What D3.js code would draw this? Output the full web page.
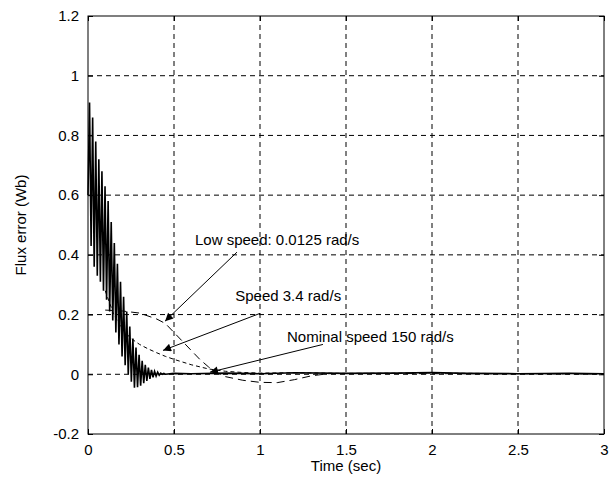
<!DOCTYPE html>
<html>
<head>
<meta charset="utf-8">
<script src="https://cdn.jsdelivr.net/npm/d3@7"></script>
<style>
  body { margin: 0; background: #fff; }
  text { font-family: "Liberation Sans", Arial, sans-serif; }
</style>
</head>
<body>
<div id="chart"></div>
<script>
// x / y tick values
const xTicks = [0, 0.5, 1, 1.5, 2, 2.5, 3];
const yTicks = [-0.2, 0, 0.2, 0.4, 0.6, 0.8, 1, 1.2];

// Nominal speed 150 rad/s : fast oscillating start (peaks / troughs)
const nominalT = [0, 0.009, 0.018, 0.027, 0.036, 0.045, 0.054, 0.063, 0.072, 0.081,
  0.09, 0.099, 0.108, 0.117, 0.126, 0.135, 0.144, 0.153, 0.162, 0.171,
  0.18, 0.189, 0.198, 0.207, 0.216, 0.225, 0.234, 0.243, 0.252, 0.261,
  0.27, 0.279, 0.288, 0.297, 0.306, 0.315, 0.324, 0.333, 0.342, 0.351,
  0.36, 0.369, 0.378, 0.387, 0.396, 0.405, 0.414, 0.423, 0.432, 0.441,
  0.45, 0.5, 0.6, 0.8, 1.0, 1.2, 1.5, 1.8, 2.0, 2.2, 2.5, 2.8, 3.0];
const nominalV = [0.6, 0.91, 0.43, 0.86, 0.36, 0.78, 0.33, 0.72, 0.31, 0.68,
  0.28, 0.63, 0.25, 0.58, 0.21, 0.51, 0.18, 0.44, 0.14, 0.37,
  0.10, 0.31, 0.06, 0.26, 0.03, 0.21, 0.0, 0.16, -0.025, 0.12,
  -0.045, 0.09, -0.043, 0.065, -0.038, 0.045, -0.03, 0.032, -0.022, 0.022,
  -0.015, 0.015, -0.01, 0.01, -0.006, 0.007, -0.003, 0.004, 0, 0.003,
  0, 0.003, 0.002, 0.004, 0.002, 0.005, 0.003, 0.004, 0.006, 0.003, 0.002, 0.003, 0.002];

// Speed 3.4 rad/s (dashed)
const midT = [0.1, 0.15, 0.2, 0.25, 0.3, 0.35, 0.4, 0.45, 0.5, 0.6, 0.7, 0.8, 0.9, 1.0, 1.2, 1.5, 2.0, 2.5, 3.0];
const midV = [0.28, 0.2, 0.15, 0.12, 0.1, 0.085, 0.072, 0.06, 0.05, 0.032, 0.018, 0.01, 0.006, 0.004, 0.005, 0.003, 0.004, 0.002, 0.002];

// Low speed 0.0125 rad/s (long dashes)
const lowT = [0.1, 0.2, 0.3, 0.4, 0.45, 0.5, 0.55, 0.6, 0.65, 0.7, 0.75, 0.8, 0.9, 1.0, 1.1, 1.2, 1.3, 1.4, 1.6, 2.0, 2.5, 3.0];
const lowV = [0.215, 0.212, 0.205, 0.185, 0.17, 0.14, 0.11, 0.08, 0.05, 0.025, 0.005, -0.008, -0.02, -0.027, -0.028, -0.018, -0.005, 0.002, 0.003, 0.002, 0.002, 0.001];

// annotations: label, text position, arrow start, arrow tip (data units)
const notes = [
  { label: "Low speed: 0.0125 rad/s", tx: 0.622, ty: 0.433, x1: 0.866, y1: 0.409, x2: 0.448, y2: 0.178 },
  { label: "Speed 3.4 rad/s", tx: 0.856, ty: 0.246, x1: 1.0, y1: 0.204, x2: 0.436, y2: 0.08 },
  { label: "Nominal speed 150 rad/s", tx: 1.157, ty: 0.107, x1: 1.366, y1: 0.1, x2: 0.709, y2: 0.007 }
];

const W = 615, H = 484;
const margin = { top: 16, right: 11, bottom: 50, left: 88 };
const width = W - margin.left - margin.right;
const height = H - margin.top - margin.bottom;

const svg = d3.select("#chart").append("svg")
  .attr("width", W).attr("height", H);

svg.append("defs").append("marker")
  .attr("id", "arr")
  .attr("viewBox", "0 0 10 10")
  .attr("refX", 10).attr("refY", 5)
  .attr("markerWidth", 10).attr("markerHeight", 8)
  .attr("markerUnits", "userSpaceOnUse")
  .attr("orient", "auto")
  .append("path").attr("d", "M0,0 L10,5 L0,10 Z").attr("fill", "#000");

const g = svg.append("g").attr("transform", `translate(${margin.left},${margin.top})`);

const x = d3.scaleLinear().domain([0, 3]).range([0, width]);
const y = d3.scaleLinear().domain([-0.2, 1.2]).range([height, 0]);

// grid
g.append("g").selectAll("line").data(xTicks.slice(1, -1)).enter().append("line")
  .attr("x1", d => x(d)).attr("x2", d => x(d)).attr("y1", 0).attr("y2", height)
  .attr("stroke", "#000").attr("stroke-dasharray", "5,4");
g.append("g").selectAll("line").data(yTicks.slice(1, -1)).enter().append("line")
  .attr("y1", d => y(d)).attr("y2", d => y(d)).attr("x1", 0).attr("x2", width)
  .attr("stroke", "#000").attr("stroke-dasharray", "5,4");

// axes
const fmt = d => String(d);
g.append("g").attr("transform", `translate(0,${height})`)
  .call(d3.axisBottom(x).tickValues(xTicks).tickFormat(fmt).tickSizeInner(-5).tickSizeOuter(0).tickPadding(10))
  .call(a => a.select(".domain").remove());
g.append("g")
  .call(d3.axisLeft(y).tickValues(yTicks).tickFormat(fmt).tickSizeInner(-5).tickSizeOuter(0).tickPadding(9))
  .call(a => a.select(".domain").remove());
g.append("g").call(d3.axisTop(x).tickValues(xTicks).tickFormat("").tickSizeInner(-5).tickSizeOuter(0))
  .call(a => a.select(".domain").remove());
g.append("g").attr("transform", `translate(${width},0)`)
  .call(d3.axisRight(y).tickValues(yTicks).tickFormat("").tickSizeInner(-5).tickSizeOuter(0))
  .call(a => a.select(".domain").remove());
g.selectAll(".tick text").attr("font-size", 15).attr("fill", "#000")
  .style("font-family", '"Liberation Sans", Arial, sans-serif');

g.append("rect").attr("width", width).attr("height", height)
  .attr("fill", "none").attr("stroke", "#000");

// curves
const line = d3.line().x(d => x(d[0])).y(d => y(d[1]));
g.append("path").datum(d3.zip(lowT, lowV)).attr("d", line)
  .attr("fill", "none").attr("stroke", "#000").attr("stroke-dasharray", "8,5");
g.append("path").datum(d3.zip(midT, midV)).attr("d", line)
  .attr("fill", "none").attr("stroke", "#000").attr("stroke-dasharray", "4,3");
g.append("path").datum(d3.zip(nominalT, nominalV)).attr("d", line)
  .attr("fill", "none").attr("stroke", "#000").attr("stroke-width", 1.6);

// annotations
const ann = g.append("g").selectAll("g").data(notes).enter().append("g");
ann.append("line")
  .attr("x1", d => x(d.x1)).attr("y1", d => y(d.y1))
  .attr("x2", d => x(d.x2)).attr("y2", d => y(d.y2))
  .attr("stroke", "#000").attr("marker-end", "url(#arr)");
ann.append("text")
  .attr("x", d => x(d.tx)).attr("y", d => y(d.ty))
  .attr("font-size", 15).text(d => d.label);

// axis titles
svg.append("text").attr("x", margin.left + width / 2).attr("y", 471)
  .attr("text-anchor", "middle").attr("font-size", 15).text("Time (sec)");
svg.append("text").attr("transform", `translate(26,${margin.top + height / 2}) rotate(-90)`)
  .attr("text-anchor", "middle").attr("font-size", 15).text("Flux error (Wb)");
</script>
</body>
</html>
